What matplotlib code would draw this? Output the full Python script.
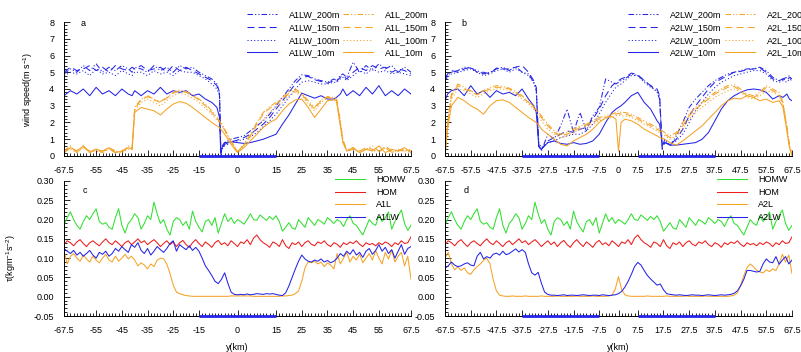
import numpy as np
import matplotlib
matplotlib.use("Agg")
import matplotlib.pyplot as plt
from matplotlib.ticker import FixedLocator, MultipleLocator

plt.rcParams['font.family'] = ['Liberation Sans', 'DejaVu Sans']
plt.rcParams['mathtext.fontset'] = 'custom'
plt.rcParams['mathtext.rm'] = 'Liberation Sans'
plt.rcParams['mathtext.default'] = 'regular'
plt.rcParams['lines.scale_dashes'] = False

# ---------------- data: wind speed, case A1 (panel a) ----------------
xa = [-67.5, -65, -62.5, -60, -57.5, -55, -52.5, -50, -47.5, -45,
      -42.5, -41, -40, -37.5, -35, -32.5, -30, -27.5, -25, -22.5,
      -20, -17.5, -15, -12.5, -10, -8, -7, -6.5, -6, -5,
      -2.5, 0, 2.5, 5, 7.5, 10, 12.5, 15, 17.5, 20,
      22.5, 25, 27.5, 30, 32.5, 35, 37.5, 38.5, 40, 41,
      42.5, 45, 47.5, 50, 52.5, 55, 57.5, 60, 62.5, 65,
      67.5]

a1lw_200 = [4.9, 5.2, 5.0, 5.4, 5.1, 5.5, 5.0, 5.3, 5.1, 5.4,
            5.2, 5.0, 5.3, 5.2, 5.0, 5.4, 5.1, 5.3, 5.0, 5.4,
            5.2, 5.3, 5.0, 4.8, 4.6, 4.3, 3.8, 0.3, 0.6, 0.8,
            1.0, 1.1, 1.2, 1.5, 1.8, 2.1, 2.5, 3.0, 3.5, 4.0,
            4.5, 4.85, 4.8, 4.6, 4.5, 4.4, 4.6, 4.5, 4.8, 4.9,
            4.7, 5.6, 5.0, 5.4, 5.1, 5.5, 5.2, 5.4, 5.0, 5.3,
            5.0]
a1lw_150 = [5.0, 5.3, 5.1, 5.2, 5.4, 5.1, 5.3, 5.0, 5.4, 5.2,
            5.1, 5.3, 5.2, 5.4, 5.1, 5.2, 5.3, 5.0, 5.4, 5.1,
            5.3, 5.1, 4.9, 4.7, 4.5, 4.2, 3.7, 0.2, 0.4, 0.7,
            0.85, 0.95, 1.1, 1.3, 1.6, 1.9, 2.3, 2.8, 3.3, 3.8,
            4.3, 4.7, 4.75, 4.55, 4.45, 4.35, 4.5, 4.45, 4.7, 4.8,
            4.6, 5.0, 5.3, 5.1, 5.4, 5.2, 5.3, 5.0, 5.2, 5.1,
            4.9]
a1lw_100 = [4.8, 5.0, 4.9, 5.1, 4.8, 5.2, 4.9, 5.0, 4.8, 5.1,
            4.9, 4.8, 5.0, 5.0, 4.8, 5.1, 4.9, 5.0, 4.8, 5.1,
            5.0, 5.0, 4.8, 4.6, 4.3, 4.0, 3.6, 0.3, 0.4, 0.6,
            0.8, 0.9, 1.0, 1.15, 1.4, 1.75, 2.1, 2.5, 3.0, 3.5,
            4.0, 4.4, 4.5, 4.4, 4.3, 4.3, 4.4, 4.4, 4.6, 4.7,
            4.5, 4.8, 5.1, 4.9, 5.2, 5.0, 5.1, 4.9, 5.0, 4.9,
            4.8]
a1lw_10 = [3.6, 3.9, 3.7, 4.0, 3.6, 4.1, 3.7, 3.9, 3.6, 4.0,
           3.7, 3.6, 3.9, 3.6, 3.9, 3.7, 4.1, 3.7, 3.9, 3.8,
           3.9, 3.6, 3.7, 3.4, 3.2, 2.9, 2.3, 0.1, 0.5, 0.8,
           0.85, 0.8, 0.75, 0.8, 0.9, 1.0, 1.15, 1.3, 1.9, 2.45,
           3.1, 3.75, 3.6, 3.45, 3.6, 3.4, 3.4, 3.5, 3.7, 4.0,
           3.6, 3.9, 3.6, 4.1, 3.7, 4.2, 3.6, 3.9, 3.6, 4.0,
           3.7]
a1l_200 = [0.3, 0.6, 0.2, 0.5, 0.3, 0.4, 0.2, 0.5, 0.3, 0.2,
           0.6, 0.5, 2.9, 3.4, 3.6, 3.4, 3.25, 3.5, 3.8, 3.95,
           3.85, 3.65, 3.4, 3.1, 2.7, 2.3, 2.1, 2.0, 1.9, 1.6,
           0.9, 0.25, 0.7, 1.3, 2.0, 2.6, 2.95, 3.2, 3.5, 3.85,
           4.0, 3.75, 3.3, 2.9, 3.35, 3.55, 3.5, 3.45, 2.1, 1.0,
           0.35, 0.5, 0.2, 0.4, 0.6, 0.3, 0.5, 0.2, 0.4, 0.3,
           0.4]
a1l_150 = [0.2, 0.5, 0.3, 0.6, 0.2, 0.4, 0.3, 0.4, 0.2, 0.3,
           0.5, 0.4, 2.8, 3.35, 3.55, 3.35, 3.2, 3.45, 3.75, 3.9,
           3.8, 3.6, 3.35, 3.0, 2.6, 2.25, 2.05, 1.95, 1.85, 1.55,
           0.85, 0.25, 0.65, 1.2, 1.9, 2.5, 2.85, 3.1, 3.4, 3.75,
           3.9, 3.7, 3.2, 2.8, 3.3, 3.5, 3.45, 3.4, 2.0, 0.9,
           0.3, 0.4, 0.3, 0.5, 0.4, 0.2, 0.6, 0.3, 0.3, 0.4,
           0.3]
a1l_100 = [0.3, 0.4, 0.2, 0.5, 0.3, 0.3, 0.2, 0.4, 0.3, 0.2,
           0.4, 0.4, 2.7, 3.2, 3.4, 3.2, 3.0, 3.3, 3.6, 3.75,
           3.65, 3.45, 3.2, 2.85, 2.5, 2.15, 2.0, 1.9, 1.8, 1.5,
           0.8, 0.22, 0.6, 1.1, 1.7, 2.2, 2.6, 2.9, 3.2, 3.6,
           3.8, 3.6, 3.1, 2.7, 3.2, 3.45, 3.4, 3.3, 1.9, 0.9,
           0.3, 0.4, 0.2, 0.4, 0.3, 0.3, 0.5, 0.2, 0.3, 0.3,
           0.2]
a1l_10 = [0.2, 0.5, 0.3, 0.6, 0.2, 0.4, 0.3, 0.5, 0.2, 0.3,
          0.5, 0.4, 2.6, 2.9, 2.8, 2.7, 2.45, 2.8, 3.1, 3.25,
          3.15, 2.9, 2.6, 2.3, 2.0, 1.8, 1.7, 1.6, 1.5, 1.3,
          0.7, 0.2, 0.5, 0.9, 1.3, 1.7, 2.0, 2.2, 2.7, 3.1,
          3.35, 3.4, 2.9, 2.3, 2.8, 3.3, 3.35, 3.3, 1.8, 0.8,
          0.3, 0.5, 0.2, 0.4, 0.3, 0.6, 0.2, 0.4, 0.3, 0.5,
          0.2]

# ---------------- data: wind speed, case A2 (panel b) ----------------
xb = [-67.5, -66.5, -65, -62.5, -60, -57.5, -55, -52.5, -50, -47.5,
      -45, -42.5, -40, -37.5, -35, -33, -32, -31, -30, -27.5,
      -25, -22.5, -20, -17.5, -15, -12.5, -10, -7.5, -5, -2.5,
      -1, 0, 1, 2.5, 5, 7.5, 10, 12.5, 15, 16,
      17, 18, 20, 22.5, 25, 27.5, 30, 32.5, 35, 37.5,
      40, 42.5, 45, 47.5, 50, 52.5, 55, 57.5, 60, 62.5,
      64, 65.5, 66.5, 67.5]

a2lw_200 = [4.5, 4.8, 5.0, 5.1, 5.3, 5.25, 5.1, 4.9, 5.0, 5.2,
            5.3, 5.1, 5.35, 5.0, 4.9, 4.4, 4.0, 0.6, 0.3, 1.3,
            1.0, 1.8, 2.8, 1.4, 2.6, 1.5, 2.4, 2.9, 4.6, 4.4,
            4.3, 4.4, 4.5, 4.6, 4.9, 4.8, 4.5, 4.2, 3.8, 3.4,
            0.5, 1.0, 0.6, 1.2, 2.0, 2.9, 3.4, 3.8, 4.2, 4.5,
            4.7, 4.9, 5.0, 5.1, 5.2, 5.2, 5.3, 5.1, 4.7, 4.5,
            4.6, 4.7, 4.8, 4.5]
a2lw_150 = [4.6, 4.9, 5.1, 5.0, 5.2, 5.3, 5.0, 5.0, 4.9, 5.25,
            5.2, 5.2, 5.3, 5.4, 5.0, 4.5, 4.1, 0.4, 0.4, 0.9,
            1.1, 1.3, 1.5, 1.4, 1.6, 1.7, 2.2, 2.8, 3.6, 4.2,
            4.4, 4.5, 4.6, 4.7, 4.95, 4.85, 4.5, 4.2, 4.0, 3.6,
            0.4, 0.8, 0.7, 1.0, 1.6, 2.4, 3.0, 3.5, 4.0, 4.4,
            4.6, 4.8, 5.0, 5.05, 5.15, 5.2, 5.25, 5.0, 4.6, 4.5,
            4.6, 4.5, 4.7, 4.6]
a2lw_100 = [4.4, 4.7, 4.9, 5.0, 5.1, 5.2, 5.0, 4.8, 4.9, 5.1,
            5.2, 5.0, 5.2, 5.0, 4.8, 4.4, 3.9, 0.8, 0.5, 0.8,
            0.9, 1.1, 1.2, 1.3, 1.3, 1.5, 1.9, 2.5, 3.2, 3.8,
            4.1, 4.2, 4.3, 4.5, 4.8, 4.8, 4.4, 4.1, 3.9, 3.5,
            0.6, 0.8, 0.7, 0.9, 1.3, 2.0, 2.7, 3.2, 3.7, 4.1,
            4.4, 4.6, 4.8, 4.9, 5.0, 5.1, 5.1, 4.9, 4.5, 4.4,
            4.5, 4.4, 4.6, 4.5]
a2lw_10 = [3.3, 3.7, 3.9, 4.0, 3.6, 4.2, 3.7, 3.9, 3.5, 3.9,
           3.7, 3.8, 3.6, 4.0, 3.4, 3.0, 2.6, 0.6, 0.4, 0.8,
           0.9, 0.75, 0.7, 0.8, 0.7, 0.75, 0.9, 1.3, 2.0, 2.6,
           2.8, 2.9, 3.0, 3.2, 3.6, 3.8, 3.2, 2.8, 2.1, 1.9,
           0.7, 0.8, 0.65, 0.65, 0.7, 0.75, 0.8, 1.0, 1.4, 2.1,
           2.8, 3.3, 3.6, 3.8, 3.95, 4.0, 3.95, 3.8, 3.4, 3.6,
           3.5, 3.7, 3.4, 3.3]
a2l_200 = [0.1, 2.0, 3.7, 4.3, 4.1, 3.9, 3.7, 3.9, 4.1, 4.2,
           4.15, 4.05, 3.85, 3.6, 3.25, 2.95, 2.8, 2.6, 2.4, 1.9,
           1.5, 1.3, 1.4, 1.6, 1.8, 1.9, 2.1, 2.3, 2.4, 2.5,
           2.6, 2.7, 2.6, 2.6, 2.5, 2.3, 2.1, 1.9, 1.7, 1.6,
           1.5, 1.4, 1.2, 1.4, 2.0, 2.5, 2.9, 3.2, 3.5, 3.8,
           4.0, 4.2, 4.25, 4.0, 3.7, 3.6, 3.8, 4.2, 4.0, 3.8,
           3.2, 1.8, 0.7, 0.1]
a2l_150 = [0.1, 1.9, 3.6, 4.2, 4.0, 3.85, 3.65, 3.85, 4.0, 4.1,
           4.1, 4.0, 3.8, 3.5, 3.2, 2.9, 2.75, 2.55, 2.3, 1.8,
           1.4, 1.2, 1.3, 1.5, 1.7, 1.85, 2.0, 2.2, 2.3, 2.4,
           2.5, 2.55, 2.5, 2.5, 2.4, 2.2, 2.0, 1.8, 1.6, 1.5,
           1.4, 1.3, 1.1, 1.3, 1.8, 2.4, 2.8, 3.1, 3.4, 3.7,
           3.9, 4.1, 4.15, 3.9, 3.6, 3.5, 3.7, 4.1, 3.9, 3.7,
           3.1, 1.7, 0.6, 0.1]
a2l_100 = [0.1, 1.8, 3.4, 4.0, 3.9, 3.7, 3.5, 3.7, 3.9, 4.0,
           4.0, 3.9, 3.7, 3.4, 3.1, 2.8, 2.6, 2.4, 2.1, 1.6,
           1.3, 1.1, 1.2, 1.4, 1.6, 1.75, 1.9, 2.1, 2.2, 2.3,
           2.4, 2.45, 2.4, 2.4, 2.3, 2.1, 1.9, 1.7, 1.5, 1.4,
           1.3, 1.2, 1.0, 1.2, 1.6, 2.2, 2.6, 2.9, 3.2, 3.5,
           3.7, 3.9, 4.0, 3.8, 3.5, 3.4, 3.6, 3.9, 3.8, 3.6,
           3.0, 1.6, 0.6, 0.1]
a2l_10 = [0.0, 1.6, 3.0, 3.5, 3.3, 3.0, 2.8, 2.5, 3.0, 3.3,
          3.35, 3.2, 2.9, 2.6, 2.3, 2.1, 2.0, 1.85, 1.6, 1.3,
          1.0, 0.7, 0.6, 0.9, 1.1, 1.3, 1.6, 2.0, 2.3, 2.35,
          2.2, 0.3, 2.0, 2.2, 2.1, 1.9, 1.6, 1.4, 1.2, 1.1,
          1.05, 1.0, 0.8, 0.65, 0.9, 1.2, 1.5, 1.8, 2.2, 2.6,
          3.0, 3.3, 3.45, 3.4, 3.6, 3.5, 3.3, 3.4, 3.2, 3.3,
          2.9, 1.5, 0.5, 0.0]

# ---------------- data: surface stress (panels c, d), 1.25 km spacing ----------------
y_km = np.linspace(-67.5, 67.5, 109)

homw = [0.185, 0.205, 0.220, 0.200, 0.185, 0.175, 0.195, 0.210, 0.200, 0.215,
        0.228, 0.195, 0.188, 0.192, 0.180, 0.175, 0.205, 0.228, 0.185, 0.165,
        0.190, 0.200, 0.215, 0.205, 0.175, 0.190, 0.210, 0.200, 0.245, 0.215,
        0.190, 0.200, 0.175, 0.160, 0.195, 0.205, 0.200, 0.185, 0.195, 0.175,
        0.222, 0.195, 0.180, 0.168, 0.195, 0.200, 0.185, 0.205, 0.165, 0.190,
        0.215, 0.195, 0.205, 0.190, 0.200, 0.195, 0.188, 0.200, 0.215, 0.200,
        0.198, 0.212, 0.205, 0.198, 0.208, 0.200, 0.210, 0.195, 0.170, 0.180,
        0.192, 0.178, 0.175, 0.200, 0.190, 0.180, 0.205, 0.195, 0.185, 0.200,
        0.195, 0.188, 0.205, 0.198, 0.190, 0.200, 0.195, 0.182, 0.200, 0.210,
        0.190, 0.185, 0.172, 0.160, 0.180, 0.200, 0.190, 0.185, 0.210, 0.195,
        0.205, 0.220, 0.175, 0.195, 0.210, 0.225, 0.190, 0.172, 0.185]
hom = [0.135, 0.145, 0.140, 0.132, 0.142, 0.148, 0.138, 0.130, 0.140, 0.145,
       0.138, 0.132, 0.142, 0.150, 0.140, 0.135, 0.145, 0.138, 0.130, 0.140,
       0.145, 0.135, 0.142, 0.150, 0.140, 0.145, 0.135, 0.142, 0.148, 0.140,
       0.130, 0.138, 0.145, 0.135, 0.142, 0.130, 0.140, 0.146, 0.135, 0.128,
       0.140, 0.148, 0.138, 0.130, 0.142, 0.136, 0.128, 0.140, 0.146, 0.135,
       0.140, 0.132, 0.145, 0.138, 0.130, 0.142, 0.138, 0.148, 0.135, 0.152,
       0.160, 0.148, 0.140, 0.135, 0.128, 0.142, 0.138, 0.130, 0.148, 0.132,
       0.125, 0.140, 0.135, 0.142, 0.130, 0.140, 0.145, 0.136, 0.132, 0.142,
       0.138, 0.145, 0.135, 0.130, 0.140, 0.136, 0.128, 0.140, 0.135, 0.142,
       0.138, 0.145, 0.136, 0.130, 0.140, 0.135, 0.138, 0.132, 0.140, 0.135,
       0.142, 0.138, 0.130, 0.140, 0.135, 0.145, 0.138, 0.140, 0.155]
a1l_tau = [0.120, 0.085, 0.105, 0.112, 0.100, 0.092, 0.108, 0.098, 0.090, 0.105,
           0.095, 0.088, 0.100, 0.110, 0.095, 0.090, 0.105, 0.092, 0.100, 0.110,
           0.098, 0.105, 0.095, 0.080, 0.088, 0.082, 0.072, 0.085, 0.078, 0.095,
           0.100, 0.098, 0.085, 0.060, 0.030, 0.012, 0.008, 0.005, 0.003, 0.002,
           0.001, 0.001, 0.001, 0.001, 0.001, 0.001, 0.001, 0.001, 0.001, 0.001,
           0.001, 0.001, 0.002, 0.002, 0.002, 0.002, 0.002, 0.002, 0.002, 0.001,
           0.001, 0.001, 0.001, 0.001, 0.001, 0.001, 0.001, 0.001, 0.002, 0.002,
           0.003, 0.004, 0.008, 0.015, 0.040, 0.075, 0.090, 0.088, 0.092, 0.085,
           0.090, 0.078, 0.088, 0.082, 0.072, 0.112, 0.085, 0.100, 0.115, 0.090,
           0.105, 0.095, 0.110, 0.088, 0.100, 0.112, 0.095, 0.120, 0.100, 0.085,
           0.115, 0.098, 0.120, 0.090, 0.105, 0.115, 0.080, 0.105, 0.045]
a1lw_tau = [0.125, 0.118, 0.112, 0.120, 0.108, 0.115, 0.105, 0.112, 0.120, 0.108,
            0.100, 0.115, 0.110, 0.118, 0.105, 0.112, 0.125, 0.118, 0.130, 0.122,
            0.115, 0.135, 0.128, 0.140, 0.120, 0.112, 0.125, 0.108, 0.118, 0.130,
            0.122, 0.115, 0.125, 0.138, 0.145, 0.118, 0.135, 0.128, 0.122, 0.132,
            0.120, 0.128, 0.118, 0.100, 0.080, 0.068, 0.055, 0.040, 0.034, 0.045,
            0.062, 0.035, 0.012, 0.006, 0.005, 0.006, 0.005, 0.007, 0.005, 0.006,
            0.008, 0.007, 0.006, 0.008, 0.007, 0.008, 0.006, 0.004, 0.003, 0.010,
            0.028, 0.050, 0.072, 0.092, 0.108, 0.098, 0.092, 0.090, 0.095, 0.092,
            0.098, 0.090, 0.094, 0.088, 0.092, 0.100, 0.112, 0.105, 0.118, 0.110,
            0.122, 0.108, 0.115, 0.102, 0.118, 0.125, 0.110, 0.120, 0.135, 0.118,
            0.128, 0.112, 0.122, 0.100, 0.118, 0.135, 0.110, 0.125, 0.130]
a2l_tau = [0.100, 0.115, 0.085, 0.070, 0.078, 0.068, 0.075, 0.062, 0.058, 0.070,
           0.078, 0.085, 0.095, 0.100, 0.085, 0.045, 0.015, 0.004, 0.002, 0.001,
           0.001, 0.002, 0.001, 0.001, 0.001, 0.002, 0.001, 0.001, 0.001, 0.001,
           0.002, 0.001, 0.001, 0.001, 0.001, 0.002, 0.001, 0.001, 0.001, 0.001,
           0.001, 0.002, 0.001, 0.001, 0.001, 0.001, 0.002, 0.001, 0.001, 0.001,
           0.001, 0.002, 0.004, 0.020, 0.052, 0.018, 0.005, 0.002, 0.001, 0.001,
           0.001, 0.001, 0.001, 0.002, 0.001, 0.001, 0.001, 0.001, 0.001, 0.002,
           0.001, 0.001, 0.001, 0.001, 0.001, 0.002, 0.001, 0.001, 0.001, 0.001,
           0.001, 0.002, 0.001, 0.001, 0.001, 0.001, 0.001, 0.001, 0.001, 0.002,
           0.004, 0.010, 0.030, 0.055, 0.075, 0.085, 0.078, 0.068, 0.064, 0.062,
           0.070, 0.065, 0.072, 0.068, 0.085, 0.110, 0.090, 0.108, 0.060]
a2lw_tau = [0.074, 0.080, 0.090, 0.082, 0.078, 0.080, 0.085, 0.088, 0.082, 0.080,
            0.105, 0.115, 0.098, 0.104, 0.100, 0.110, 0.113, 0.108, 0.118, 0.109,
            0.112, 0.118, 0.124, 0.116, 0.122, 0.115, 0.085, 0.062, 0.056, 0.063,
            0.035, 0.012, 0.006, 0.004, 0.004, 0.003, 0.004, 0.005, 0.003, 0.004,
            0.004, 0.003, 0.004, 0.005, 0.004, 0.003, 0.004, 0.004, 0.003, 0.005,
            0.004, 0.003, 0.004, 0.005, 0.008, 0.014, 0.025, 0.040, 0.058, 0.078,
            0.089, 0.082, 0.068, 0.055, 0.046, 0.038, 0.030, 0.033, 0.018, 0.008,
            0.006, 0.005, 0.004, 0.005, 0.004, 0.003, 0.004, 0.005, 0.004, 0.004,
            0.003, 0.004, 0.005, 0.004, 0.003, 0.004, 0.005, 0.004, 0.005, 0.006,
            0.009, 0.015, 0.028, 0.045, 0.068, 0.068, 0.066, 0.064, 0.066, 0.085,
            0.098, 0.090, 0.088, 0.104, 0.084, 0.095, 0.104, 0.085, 0.095]

# coastal strips marked along the x axis
strips_a1 = [(-15, 15)]
strips_a2 = [(-37.5, -7.5), (7.5, 37.5)]

ticks_a1 = [-67.5, -55, -45, -35, -25, -15, 0, 15, 25, 35, 45, 55, 67.5]
ticks_a2 = [-67.5, -57.5, -47.5, -37.5, -27.5, -17.5, -7.5, 0, 7.5, 17.5, 27.5,
            37.5, 47.5, 57.5, 67.5]

BLUE = '#2424e8'
ORANGE = '#f5a325'
GREEN = '#30e030'
RED = '#ee1c1c'
LW = 0.75
FS = 6.5
STYLES = {'200m': (0, (4, 1.5, 0.8, 1.5, 0.8, 1.5)),
          '150m': (0, (5, 3)),
          '100m': (0, (0.8, 1.6)),
          '10m': '-'}

W, H = 801, 352
fig = plt.figure(figsize=(W / 100, H / 100), dpi=100)


def px_axes(left, top, right, bottom):
    return fig.add_axes([left / W, 1 - bottom / H, (right - left) / W, (bottom - top) / H])


def style_axes(ax, xticks, ylim, yticks, yminor, yfmt):
    ax.set_facecolor('none')
    ax.set_xlim(-67.5, 67.5)
    ax.set_ylim(*ylim)
    for s in ('top', 'right'):
        ax.spines[s].set_visible(False)
    for s in ('left', 'bottom'):
        ax.spines[s].set_linewidth(0.7)
    ax.xaxis.set_major_locator(FixedLocator(xticks))
    ax.set_xticklabels([f'{t:g}' for t in xticks])
    ax.xaxis.set_minor_locator(MultipleLocator(1.25))
    ax.yaxis.set_major_locator(FixedLocator(yticks))
    ax.set_yticklabels([yfmt.format(t) for t in yticks])
    ax.yaxis.set_minor_locator(MultipleLocator(yminor))
    ax.tick_params(which='both', direction='in', labelsize=FS, width=0.6)
    ax.tick_params(which='major', length=4)
    ax.tick_params(which='minor', length=2)
    ax.tick_params(axis='x', pad=7)
    ax.tick_params(axis='y', pad=7)


def draw_strips(ax, strips):
    y0 = ax.get_ylim()[0]
    for lo, hi in strips:
        ax.plot([lo, hi], [y0, y0], color=BLUE, lw=2.0, clip_on=False,
                solid_capstyle='butt', zorder=5)


def legend_at(ax, handles, x_px, top_px, textpad=1.3, spacing=0.4, keep=True):
    leg = ax.legend(handles=handles, loc='upper left',
                    bbox_to_anchor=(x_px / W, 1 - top_px / H),
                    bbox_transform=fig.transFigure, frameon=False,
                    fontsize=FS, handlelength=3.3, handletextpad=textpad,
                    labelspacing=spacing, borderpad=0, borderaxespad=0)
    if keep:
        # keep this one when the axes gets a second legend
        ax.add_artist(leg)
        ax.legend_ = None


def wind_panel(ax, x, blue_sets, orange_sets, tag, ticks, strips, letter, leg_x):
    bl, ol = [], []
    for h, y in blue_sets:
        bl += ax.plot(x, y, color=BLUE, lw=LW, ls=STYLES[h], label=f'{tag}LW_{h}')
    for h, y in orange_sets:
        ol += ax.plot(x, y, color=ORANGE, lw=LW, ls=STYLES[h], label=f'{tag}L_{h}')
    style_axes(ax, ticks, (0, 8), list(range(9)), 0.2, '{:g}')
    draw_strips(ax, strips)
    ax.text(0.055, 0.99, letter, transform=ax.transAxes, fontsize=FS,
            ha='center', va='center')
    legend_at(ax, bl, leg_x[0], 10.5)
    legend_at(ax, ol, leg_x[1], 10.5, keep=False)


def tau_panel(ax, case_l, case_lw, tag, ticks, strips, letter, leg_x):
    lines = []
    lines += ax.plot(y_km, homw, color=GREEN, lw=LW, label='HOMW')
    lines += ax.plot(y_km, hom, color=RED, lw=LW, label='HOM')
    lines += ax.plot(y_km, case_l, color=ORANGE, lw=LW, label=f'{tag}L')
    lines += ax.plot(y_km, case_lw, color=BLUE, lw=LW, label=f'{tag}LW')
    yt = [-0.05, 0.0, 0.05, 0.10, 0.15, 0.20, 0.25, 0.30]
    style_axes(ax, ticks, (-0.05, 0.30), yt, 0.01, '{:.2f}')
    draw_strips(ax, strips)
    ax.text(0.06, 0.933, letter, transform=ax.transAxes, fontsize=FS,
            ha='center', va='center')
    legend_at(ax, lines, leg_x, 175.5, textpad=1.25, spacing=0.38, keep=False)


ax_a = px_axes(64, 22, 411, 156)
ax_b = px_axes(445, 22, 792, 156)
ax_c = px_axes(64, 181, 411, 316)
ax_d = px_axes(445, 181, 792, 316)

wind_panel(ax_a, xa,
           [('200m', a1lw_200), ('150m', a1lw_150), ('100m', a1lw_100), ('10m', a1lw_10)],
           [('200m', a1l_200), ('150m', a1l_150), ('100m', a1l_100), ('10m', a1l_10)],
           'A1', ticks_a1, strips_a1, 'a', (247, 343))
wind_panel(ax_b, xb,
           [('200m', a2lw_200), ('150m', a2lw_150), ('100m', a2lw_100), ('10m', a2lw_10)],
           [('200m', a2l_200), ('150m', a2l_150), ('100m', a2l_100), ('10m', a2l_10)],
           'A2', ticks_a2, strips_a2, 'b', (628, 725))
tau_panel(ax_c, a1l_tau, a1lw_tau, 'A1', ticks_a1, strips_a1, 'c', 335)
tau_panel(ax_d, a2l_tau, a2lw_tau, 'A2', ticks_a2, strips_a2, 'd', 717)

ax_a.set_ylabel(r'wind speed(m s$^{-1}$)', fontsize=FS)
ax_a.yaxis.set_label_coords(-0.084, 0.5)
ax_c.set_ylabel(r'τ(kgm$^{-1}$s$^{-2}$)', fontsize=FS)
ax_c.yaxis.set_label_coords(-0.133, 0.43)
for ax in (ax_c, ax_d):
    ax.set_xlabel('y(km)', fontsize=FS)
    ax.xaxis.set_label_coords(0.5, -0.2)

fig.savefig('out.png', dpi=100)
